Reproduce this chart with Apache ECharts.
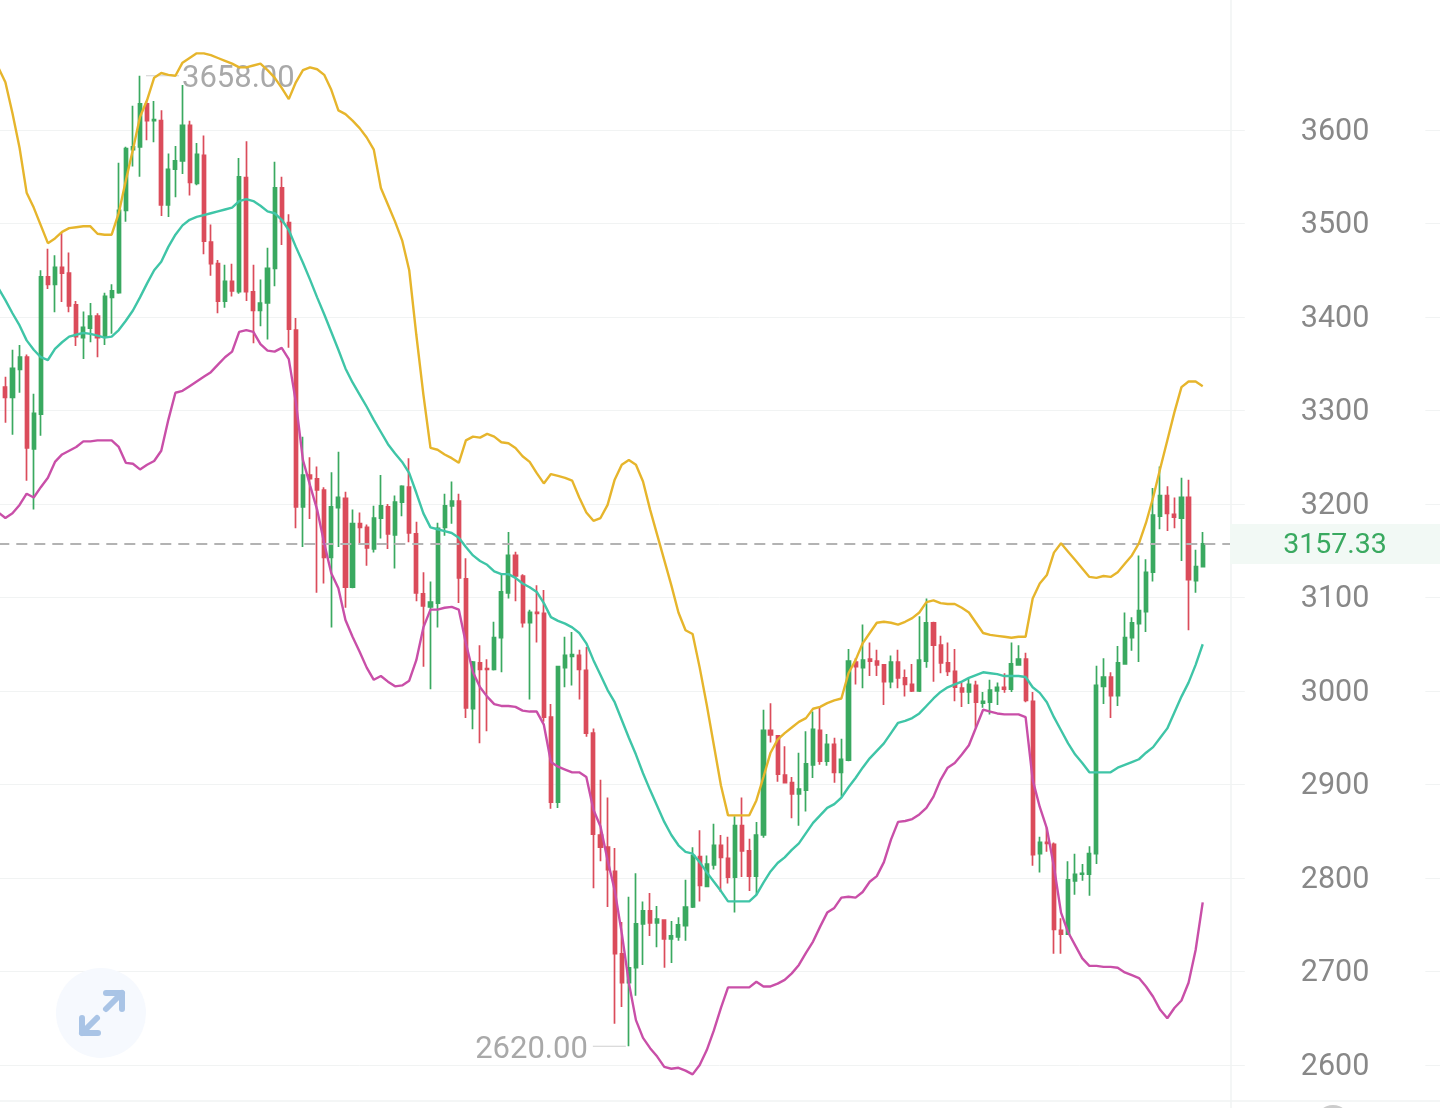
<!DOCTYPE html>
<html>
<head>
<meta charset="utf-8">
<title>K-line</title>
<script src="https://cdn.jsdelivr.net/npm/echarts@6/dist/echarts.min.js"></script>
<style>
  html, body { margin: 0; padding: 0; background: #fff; }
  #chart { width: 1440px; height: 1108px; }
</style>
</head>
<body>
<div id="chart"></div>
<script>
const tickValues = [2600, 2700, 2800, 2900, 3000, 3100, 3200, 3300, 3400, 3500, 3600];
const lastPrice = 3157.33;
const highPrice = 3658;
const lowPrice = 2620;
const bottomEdge = 2561.5;

// open, close, low, high
const candles = [
  "-",
  [3325,3314,3287,3336],[3314,3345,3274,3365],[3344,3357,3319,3370],[3357,3260,3225,3360],[3259,3297,3194,3318],
  [3296,3443,3273,3450],[3443,3435,3430,3473],[3435,3453,3405,3466],[3453,3447,3416,3490],[3447,3412,3405,3469],
  [3413,3379,3369,3417],[3378,3389,3355,3406],[3388,3401,3373,3415],[3401,3378,3357,3404],[3379,3422,3370,3426],
  [3421,3428,3382,3435],[3426,3514,3425,3565],[3514,3580,3502,3582],[3579,3582,3561,3626],[3582,3628,3550,3658],
  [3628,3610,3589,3631],[3610,3611,3587,3631],[3610,3520,3508,3621],[3520,3558,3507,3575],[3558,3567,3528,3583],
  [3567,3605,3553,3648],[3605,3544,3530,3610],[3543,3574,3541,3586],[3573,3481,3467,3594],[3480,3457,3444,3499],
  [3457,3417,3404,3461],[3417,3438,3410,3456],[3438,3428,3422,3457],[3427,3550,3425,3570],[3549,3427,3417,3588],
  [3427,3407,3372,3456],[3407,3415,3390,3440],[3415,3452,3376,3474],[3452,3538,3433,3566],[3538,3502,3477,3550],
  [3501,3387,3367,3510],[3386,3197,3174,3399],[3197,3231,3154,3272],[3231,3227,3184,3250],[3227,3215,3105,3240],
  [3215,3143,3115,3218],[3143,3197,3068,3234],[3196,3207,3154,3256],[3206,3111,3089,3213],[3111,3179,3110,3194],
  [3179,3175,3158,3191],[3175,3153,3134,3178],[3152,3185,3148,3198],[3185,3198,3163,3231],[3197,3168,3152,3200],
  [3167,3202,3131,3209],[3202,3219,3187,3220],[3218,3169,3159,3249],[3168,3105,3096,3181],[3104,3091,3026,3127],
  [3090,3095,3002,3117],[3094,3174,3068,3180],[3175,3198,3166,3211],[3198,3203,3179,3224],[3203,3121,3094,3211],
  [3120,2982,2971,3142],[2981,3031,2959,3032],[3030,3023,2944,3049],[3024,3023,2957,3034],[3023,3057,3022,3074],
  [3057,3106,3020,3124],[3105,3145,3099,3170],[3145,3123,3096,3149],[3123,3073,3068,3125],[3073,3084,2991,3087],
  [3084,3083,3052,3113],[3083,2972,2967,3108],[2972,2881,2874,2986],[2881,3026,2875,3027],[3025,3038,3004,3058],
  [3037,3039,3006,3063],[3038,3023,2991,3044],[3022,2955,2951,3047],[2955,2847,2789,2960],[2846,2833,2818,2905],
  [2833,2809,2769,2886],[2807,2719,2644,2832],[2719,2688,2662,2753],[2688,2704,2620,2780],[2704,2751,2674,2805],
  [2751,2765,2707,2775],[2765,2752,2738,2784],[2752,2756,2726,2770],[2755,2735,2704,2756],[2735,2738,2709,2754],
  [2737,2750,2733,2758],[2749,2769,2733,2798],[2769,2824,2768,2833],[2823,2792,2775,2851],[2791,2815,2790,2824],
  [2814,2835,2809,2858],[2835,2822,2785,2846],[2821,2801,2794,2844],[2801,2856,2763,2866],[2856,2829,2801,2886],
  [2829,2802,2786,2842],[2802,2846,2782,2860],[2846,2958,2843,2980],[2958,2953,2945,2987],[2952,2911,2903,2953],
  [2910,2902,2901,2941],[2902,2890,2864,2908],[2890,2895,2856,2934],[2894,2922,2871,2957],[2921,2959,2907,2978],
  [2958,2925,2921,2983],[2925,2943,2920,2954],[2943,2913,2902,2950],[2913,2927,2887,2949],[2926,3032,2925,3045],
  [3031,3026,3007,3035],[3025,3033,3003,3071],[3034,3032,3016,3052],[3032,3028,3016,3044],[3028,3010,2985,3029],
  [3010,3031,3003,3038],[3031,3014,3003,3044],[3014,3007,2994,3023],[3007,3000,2999,3029],[3000,3033,2999,3080],
  [3032,3073,3025,3099],[3073,3049,3010,3074],[3049,3030,3019,3059],[3030,3021,3016,3052],[3021,3004,2989,3045],
  [3003,2999,2983,3009],[2999,3007,2986,3013],[3006,2988,2961,3011],[2987,2989,2982,2999],[2988,3001,2975,3012],
  [3000,3004,2985,3009],[3004,3002,2998,3019],[3002,3029,2999,3052],[3028,3034,3027,3049],[3034,2990,2988,3041],
  [2989,2825,2813,2999],[2826,2838,2806,2844],[2838,2837,2828,2854],[2836,2745,2719,2838],[2744,2740,2719,2757],
  [2740,2798,2739,2818],[2797,2804,2782,2826],[2804,2805,2797,2815],[2804,2826,2781,2834],[2826,3006,2815,3027],
  [3005,3015,2986,3035],[3015,2995,2971,3020],[2995,3030,2984,3048],[3029,3057,3029,3084],[3057,3073,3043,3079],
  [3072,3086,3031,3145],[3085,3127,3063,3141],[3127,3188,3117,3217],[3187,3209,3173,3240],[3209,3190,3171,3219],
  [3189,3186,3174,3207],[3185,3207,3139,3228],[3207,3119,3065,3226],[3118,3133,3105,3151],[3133,3157.33,3132,3170]
];

const upperBand = [
  3667,3651,3618,3581,3533,3517,3498,3479,3484,3491,
  3495,3496,3497,3497,3489,3488,3488,3511,3546,3579,
  3614,3632,3656,3661,3659,3658,3672,3677,3682,3682,
  3680,3677,3674,3671,3667,3667,3669,3671,3664,3656,
  3645,3633,3651,3664,3667,3665,3659,3643,3621,3617,
  3610,3602,3592,3579,3538,3520,3502,3482,3450,3381,
  3317,3260,3258,3253,3249,3244,3268,3272,3271,3275,
  3272,3266,3265,3260,3251,3245,3233,3222,3232,3230,
  3228,3225,3207,3191,3182,3185,3199,3226,3242,3247,
  3242,3224,3194,3167,3140,3113,3084,3065,3061,3025,
  2985,2942,2899,2867,2867,2867,2867,2883,2908,2934,
  2948,2955,2961,2967,2971,2981,2983,2987,2990,2992,
  3019,3033,3051,3062,3073,3074,3073,3071,3074,3078,
  3084,3095,3097,3094,3093,3093,3089,3084,3073,3062,
  3060,3059,3058,3057,3058,3058,3099,3115,3124,3148,
  3158,3149,3140,3131,3122,3121,3123,3122,3127,3136,
  3145,3158,3180,3207,3238,3268,3298,3325,3331,3331,
  3326
];

const midBand = [
  3431,3418,3404,3391,3375,3365,3357,3354,3366,3373,
  3379,3381,3383,3382,3380,3378,3379,3386,3396,3407,
  3421,3436,3450,3459,3475,3488,3498,3504,3507,3509,
  3511,3513,3515,3517,3524,3526,3524,3519,3513,3511,
  3504,3493,3475,3458,3440,3421,3403,3384,3365,3345,
  3330,3317,3304,3290,3277,3264,3254,3245,3233,3212,
  3190,3175,3173,3171,3169,3164,3154,3145,3139,3135,
  3128,3125,3125,3121,3115,3111,3106,3094,3079,3075,
  3072,3068,3062,3051,3033,3017,3001,2988,2969,2950,
  2932,2912,2894,2877,2860,2846,2835,2828,2826,2817,
  2806,2796,2786,2775,2775,2775,2775,2782,2795,2807,
  2816,2822,2830,2837,2848,2859,2867,2875,2879,2886,
  2897,2907,2918,2928,2936,2944,2955,2966,2968,2971,
  2976,2984,2992,2999,3004,3007,3010,3014,3017,3020,
  3019,3018,3016,3016,3016,3015,3004,2998,2988,2972,
  2958,2944,2932,2923,2913,2913,2913,2913,2918,2921,
  2924,2927,2934,2940,2950,2960,2977,2994,3009,3028,
  3050
];

const lowerBand = [
  3191,3185,3190,3199,3211,3207,3218,3228,3245,3253,
  3257,3261,3267,3267,3268,3268,3268,3261,3244,3243,
  3237,3242,3246,3257,3290,3319,3321,3326,3331,3336,
  3341,3349,3357,3363,3384,3386,3384,3371,3364,3363,
  3367,3355,3309,3247,3220,3194,3158,3126,3110,3076,
  3058,3042,3025,3012,3016,3010,3005,3006,3011,3033,
  3068,3087,3087,3089,3090,3087,3051,3020,3004,2994,
  2986,2984,2984,2983,2979,2978,2978,2964,2924,2919,
  2916,2913,2913,2908,2873,2855,2819,2787,2741,2688,
  2648,2629,2618,2609,2598,2596,2597,2594,2590,2600,
  2616,2637,2661,2683,2683,2683,2683,2689,2684,2684,
  2687,2691,2698,2707,2720,2732,2748,2763,2768,2779,
  2780,2779,2785,2796,2802,2817,2841,2860,2861,2863,
  2868,2875,2887,2905,2918,2923,2932,2942,2961,2980,
  2978,2976,2975,2975,2975,2972,2905,2876,2853,2812,
  2763,2742,2728,2714,2706,2706,2705,2705,2704,2699,
  2696,2693,2684,2673,2659,2650,2661,2669,2688,2723,
  2774
];

// slots past the last candle leave the room for the price scale
const slotCount = 204;
const scaleSlot = 174;
const categories = Array.from({ length: slotCount }, (_, i) => String(i));

const upColor = "#3aa960";
const downColor = "#db4c5b";
const gridColor = "#f1f3f3";
const axisFont = "Roboto";

const bandLine = (name, data, color) => ({
  name,
  type: "line",
  data,
  symbol: "none",
  smooth: false,
  z: 5,
  lineStyle: { width: 2.4, color },
});

const extremeLabel = (coord, value, position, distance, rich, textPadding) => ({
  coord: [coord, value],
  symbol: "circle",
  symbolSize: 0,
  label: {
    show: true,
    position,
    distance,
    formatter: rich,
    rich: {
      l: { width: 33, height: 1, backgroundColor: "#cfcfcf" },
      t: { fontFamily: axisFont, fontSize: 31, color: "#a9a9a9", padding: textPadding },
    },
  },
});

const chart = echarts.init(document.getElementById("chart"));

chart.setOption({
  animation: false,
  backgroundColor: "#fff",
  grid: { left: -5.24, top: -57, width: 1445.3, height: 1215.5, outerBoundsMode: "none" },
  xAxis: {
    type: "category",
    data: categories,
    boundaryGap: true,
    axisLine: { show: false },
    axisTick: { show: false },
    axisLabel: { show: false },
    splitLine: { show: false },
  },
  yAxis: {
    type: "value",
    position: "right",
    min: 2500,
    max: 3800,
    interval: 100,
    axisLine: { show: false },
    axisTick: { show: false, customValues: tickValues },
    splitLine: { show: true, lineStyle: { color: gridColor, width: 1 } },
    axisLabel: {
      customValues: tickValues,
      formatter: (v) => `{v|${v}}`,
      inside: true,
      margin: 105,
      align: "center",
      backgroundColor: "#fff",
      padding: [4, 56],
      rich: {
        v: { fontFamily: axisFont, fontSize: 30.5, color: "#888888", padding: [4, 0, 0, 0] },
      },
    },
  },
  series: [
    {
      name: "guides",
      type: "line",
      data: [],
      z: 1,
      silent: true,
      markLine: {
        silent: true,
        symbol: "none",
        label: { show: false },
        animation: false,
        data: [
          [
            { coord: [0, lastPrice], lineStyle: { color: "#b3b3b3", type: [11, 7], width: 2 } },
            { coord: [scaleSlot, lastPrice] },
          ],
          { xAxis: scaleSlot, lineStyle: { color: gridColor, type: "solid", width: 1.5 } },
          { yAxis: bottomEdge, lineStyle: { color: gridColor, type: "solid", width: 1.5 } },
        ],
      },
    },
    {
      name: "K",
      type: "candlestick",
      data: candles,
      barWidth: 3.6,
      z: 3,
      itemStyle: {
        color: upColor,
        color0: downColor,
        borderColor: upColor,
        borderColor0: downColor,
        borderWidth: 1.7,
      },
      markPoint: {
        silent: true,
        animation: false,
        data: [
          extremeLabel(20, highPrice, "right", 6, "{l| }{t|3658.00}", [6, 5, 0, 3]),
          extremeLabel(89, lowPrice, "left", 3, "{t|2620.00}{l| }", [7, 5, 0, 5]),
        ],
      },
    },
    bandLine("upper", upperBand, "#e6b52c"),
    bandLine("mid", midBand, "#3fc5a7"),
    bandLine("lower", lowerBand, "#c94fa8"),
  ],
});

// price tag on the scale and the round expand button
const lastY = chart.convertToPixel({ yAxisIndex: 0 }, lastPrice);
const expandColor = "#a9c4e6";
const expandStyle = { stroke: expandColor, lineWidth: 6, fill: null, lineCap: "round", lineJoin: "round" };

chart.setOption({
  graphic: [
    { type: "rect", z: 20, shape: { x: 1230, y: lastY - 20, width: 210, height: 40 }, style: { fill: "#f2f9f5" } },
    {
      type: "text",
      z: 21,
      x: 1335,
      y: lastY + 2,
      style: { text: String(lastPrice), fontFamily: axisFont, fontSize: 28.5, fill: "#3aa960", align: "center", verticalAlign: "middle" },
    },
    { type: "circle", z: 20, shape: { cx: 101, cy: 1013, r: 45 }, style: { fill: "#f6f9fe" } },
    { type: "polyline", z: 21, shape: { points: [[106, 993], [122, 993], [122, 1009]] }, style: expandStyle },
    { type: "polyline", z: 21, shape: { points: [[106, 1009], [122, 993]] }, style: expandStyle },
    { type: "polyline", z: 21, shape: { points: [[82, 1018], [82, 1033], [98, 1033]] }, style: expandStyle },
    { type: "polyline", z: 21, shape: { points: [[97, 1018], [82, 1033]] }, style: expandStyle },
    { type: "circle", z: 20, shape: { cx: 1333, cy: 1122, r: 17 }, style: { fill: "#cccccc" } },
  ],
});
</script>
</body>
</html>
